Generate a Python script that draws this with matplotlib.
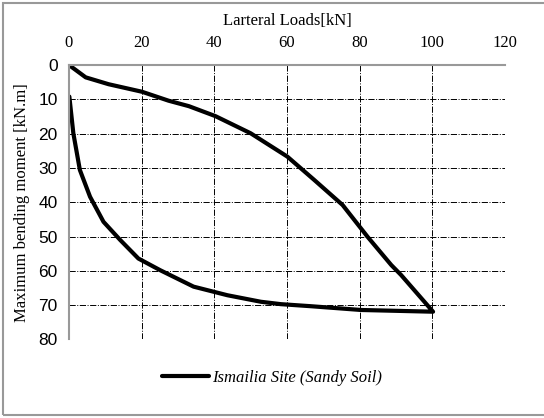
import matplotlib.pyplot as plt
from matplotlib.patches import Rectangle

# Lateral load [kN] vs maximum bending moment [kN.m], loading then unloading
load_up = [0, 4.6, 10.9, 20.1, 27.4, 33, 40.3, 50, 60.1, 67.5, 75.3, 82.2, 88.7, 91.4, 100.2]
moment_up = [0, 3.6, 5.6, 7.8, 10.4, 12, 14.9, 19.9, 26.7, 33.5, 40.8, 50.1, 58.3, 61.2, 71.9]
load_down = [100.2, 80.4, 66.6, 58.3, 52.8, 43.6, 34.3, 25.1, 19.1, 14.1, 9.5, 5.8, 3, 1.2, 0.1]
moment_down = [71.9, 71.4, 70.3, 69.7, 69, 67.1, 64.6, 59.8, 56.4, 51, 45.7, 38.4, 30.6, 19.9, 9.2]

x_ticks = [0, 20, 40, 60, 80, 100, 120]
y_ticks = [0, 10, 20, 30, 40, 50, 60, 70, 80]

serif = "Liberation Serif"
sans = "Liberation Sans"

fig = plt.figure(figsize=(5.44, 4.18), dpi=100)
ax = fig.add_axes([0.1268, 0.1878, 0.8015, 0.6567])

ax.plot(load_up + load_down[1:], moment_up + moment_down[1:], color="black",
        lw=3, solid_joinstyle="round", solid_capstyle="round",
        label="Ismailia Site (Sandy Soil)")

ax.set_xlim(0, 120)
ax.set_ylim(80, 0)
ax.set_xticks(x_ticks)
ax.set_yticks(y_ticks)
ax.xaxis.tick_top()
ax.xaxis.set_label_position("top")
ax.tick_params(axis="x", length=0, pad=10)
ax.tick_params(axis="y", length=0, pad=8)
ax.set_xticklabels([str(t) for t in x_ticks], family=serif, fontsize=12)
ax.set_yticklabels([str(t) for t in y_ticks], family=sans, fontsize=12.5)
ax.set_xlabel("Larteral Loads[kN]", family=serif, fontsize=12, labelpad=7)
ax.set_ylabel("Maximum bending moment [kN.m]", family=serif, fontsize=12, labelpad=6)

ax.grid(True, color="black", linestyle="-.", lw=0.7)
ax.spines["right"].set_visible(False)
ax.spines["bottom"].set_visible(False)
ax.spines["top"].set_color("#999999")
ax.spines["left"].set_color("#999999")
ax.spines["top"].set_linewidth(1.5)
ax.spines["left"].set_linewidth(1.5)

leg = fig.legend(loc="center", bbox_to_anchor=(0.5, 0.095), frameon=False,
                 prop={"family": serif, "style": "italic", "size": 12},
                 handlelength=2.8, handletextpad=0.2)

# outer frame of the chart
fig.patches.append(Rectangle((0.006, 0.007), 1.2, 0.986, transform=fig.transFigure,
                             fill=False, edgecolor="#999999", lw=1.5))

fig.savefig("out.png", dpi=100)
